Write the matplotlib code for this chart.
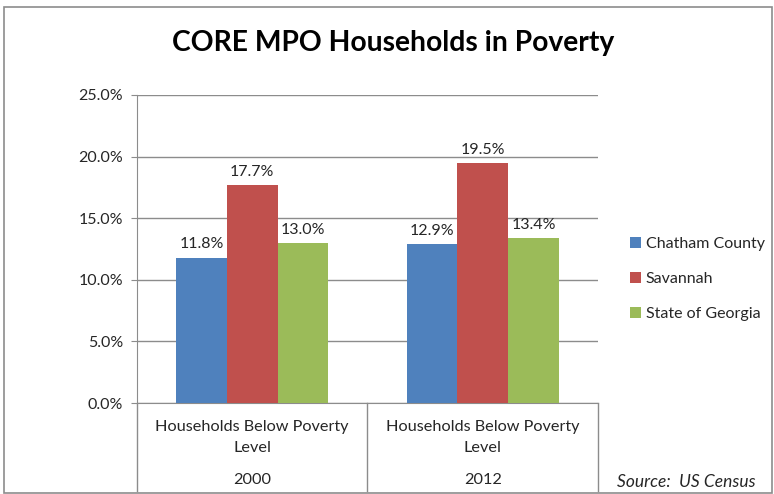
import matplotlib
matplotlib.use("Agg")
import matplotlib.pyplot as plt
from matplotlib.patches import Rectangle
import numpy as np

categories = ["Households Below Poverty", "Households Below Poverty"]
categories_line2 = ["Level", "Level"]
years = ["2000", "2012"]
series_names = ["Chatham County", "Savannah", "State of Georgia"]
chatham = [11.8, 12.9]
savannah = [17.7, 19.5]
georgia = [13.0, 13.4]
colors = ["#4F81BD", "#C0504D", "#9BBB59"]
yticks = [0, 5, 10, 15, 20, 25]

plt.rcParams['font.family'] = ['Lato', 'DejaVu Sans']

fig = plt.figure(figsize=(7.74, 4.94), dpi=100)
fig.patch.set_facecolor("white")
fig.patches.append(Rectangle((0.005, 0.002), 0.993, 0.984, transform=fig.transFigure,
                             fill=False, edgecolor="#8c8c8c", linewidth=1.2))

ax = fig.add_axes([0.177, 0.1842, 0.5956, 0.6235])
x = np.arange(len(categories))
w = 0.22
vals = [chatham, savannah, georgia]
for i, (name, v, c) in enumerate(zip(series_names, vals, colors)):
    ax.bar(x + (i - 1) * w, v, width=w, color=c, label=name, zorder=3)
    for xb, val in zip(x + (i - 1) * w, v):
        ax.text(xb, val + 0.5, f"{val:.1f}%", ha="center", va="bottom",
                fontsize=11.5, color="#262626")

ax.set_xlim(-0.5, 1.5)
ax.set_ylim(0, 25)
ax.set_yticks(yticks)
ax.set_yticklabels([f"{t:.1f}%" for t in yticks], fontsize=11.5, color="#262626")
ax.yaxis.grid(True, color="#8c8c8c", linewidth=1)
ax.set_axisbelow(True)
ax.tick_params(axis="y", length=4, color="#8c8c8c", pad=6)
ax.set_xticks([])
for s in ["top", "right"]:
    ax.spines[s].set_visible(False)
for s in ["left", "bottom"]:
    ax.spines[s].set_color("#8c8c8c")

# multi-level category axis
tr = ax.get_xaxis_transform()
for xv in [-0.5, 0.5, 1.5]:
    ax.plot([xv, xv], [0, -0.285], transform=tr,
            color="#8c8c8c", linewidth=1, clip_on=False)
for xi, cat, cat2, yr in zip(x, categories, categories_line2, years):
    ax.text(xi, -0.078, cat, transform=tr, ha="center", va="center",
            fontsize=11.7, color="#262626")
    ax.text(xi, -0.146, cat2, transform=tr, ha="center", va="center",
            fontsize=11.7, color="#262626")
    ax.text(xi, -0.25, yr, transform=tr, ha="center", va="center",
            fontsize=11.7, color="#262626")

fig.text(0.508, 0.912, "CORE MPO Households in Poverty", ha="center", va="center",
         fontsize=20.3, fontweight="bold", color="black")

leg = fig.legend(loc="center left", bbox_to_anchor=(0.795, 0.435), frameon=False,
                 fontsize=11.5, handlelength=0.7, handleheight=0.7,
                 handletextpad=0.3, labelspacing=1.3)
for t in leg.get_texts():
    t.set_color("#262626")

fig.text(0.797, 0.024, "Source:  US Census", ha="left", va="center",
         fontsize=12.5, style="italic", color="#262626")

fig.savefig("out.png", dpi=100)
